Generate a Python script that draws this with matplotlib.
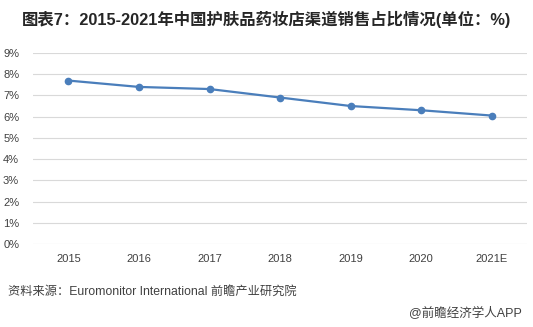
import matplotlib.pyplot as plt

plt.rcParams['font.family'] = ['Liberation Sans', 'Noto Sans CJK SC', 'DejaVu Sans']

# data
years = ['2015', '2016', '2017', '2018', '2019', '2020', '2021E']
share = [7.7, 7.4, 7.3, 6.9, 6.5, 6.3, 6.05]
yticks = [0, 1, 2, 3, 4, 5, 6, 7, 8, 9]

fig = plt.figure(figsize=(5.33, 3.27), dpi=100)
ax = fig.add_axes([0.062, 0.254, 0.927, 0.584])

x = list(range(len(years)))
ax.plot(x, share, color='#4A7EBB', lw=1.6, marker='o', ms=4.5)

ax.set_xlim(-0.5, len(years) - 0.5)
ax.set_ylim(0, 9)
ax.set_yticks(yticks)
ax.set_yticklabels([f'{v}%' for v in yticks])
ax.set_xticks(x)
ax.set_xticklabels(years)
ax.grid(axis='y', color='#D9D9D9', lw=0.8)
ax.set_axisbelow(True)
for s in ax.spines.values():
    s.set_visible(False)
ax.tick_params(length=0, labelsize=8, colors='#404040', pad=7)
ax.tick_params(axis='y', pad=10)

fig.text(0.5, 0.94, '图表7：2015-2021年中国护肤品药妆店渠道销售占比情况(单位：%)',
         ha='center', va='center', fontsize=11.8, fontweight='bold', color='#262626')
fig.text(0.015, 0.107, '资料来源：Euromonitor International 前瞻产业研究院',
         ha='left', va='center', fontsize=8.8, color='#404040')
fig.text(0.98, 0.045, '@前瞻经济学人APP',
         ha='right', va='center', fontsize=9, color='#404040')

fig.savefig('out.png', dpi=100, facecolor='white')
